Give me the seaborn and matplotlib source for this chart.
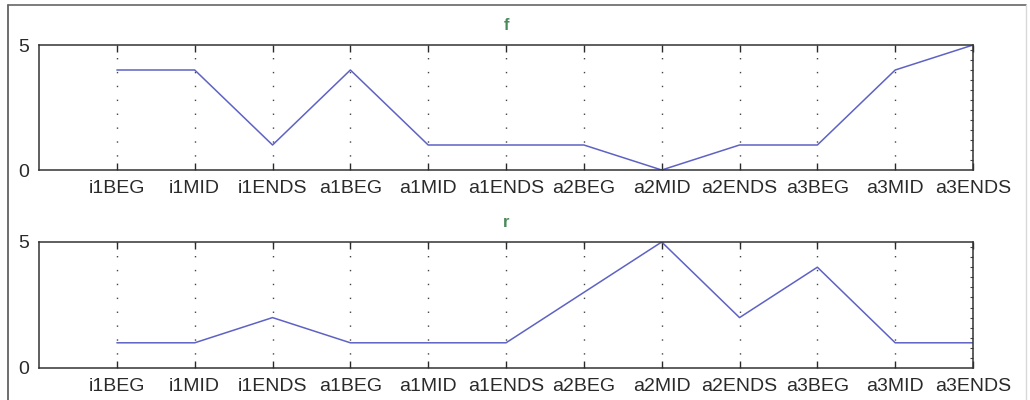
import matplotlib
matplotlib.use("Agg")
import matplotlib.pyplot as plt
from matplotlib.lines import Line2D
from matplotlib.ticker import MultipleLocator
import seaborn as sns
import pandas as pd

phases = ["i1BEG", "i1MID", "i1ENDS", "a1BEG", "a1MID", "a1ENDS",
          "a2BEG", "a2MID", "a2ENDS", "a3BEG", "a3MID", "a3ENDS"]
f_values = [4, 4, 1, 4, 1, 1, 1, 0, 1, 1, 4, 5]
r_values = [1, 1, 2, 1, 1, 1, 3, 5, 2, 4, 1, 1]

sns.set_style("white")
plt.rcParams["font.family"] = ["Liberation Sans", "DejaVu Sans"]

line_color = "#5e62c4"
title_color = "#4a8a5a"

fig = plt.figure(figsize=(10.3, 4.0), dpi=100)
ax_f = fig.add_axes([0.0379, 0.575, 0.9068, 0.3125])
ax_r = fig.add_axes([0.0379, 0.08, 0.9068, 0.315])

for ax, name, vals in [(ax_f, "f", f_values), (ax_r, "r", r_values)]:
    df = pd.DataFrame({"phase": phases, "value": vals})
    sns.lineplot(data=df, x="phase", y="value", ax=ax, color=line_color,
                 linewidth=1.1, sort=False)
    ax.set_xlim(-1, len(phases) - 1)
    ax.set_ylim(0, 5)
    ax.set_xticks(range(len(phases)))
    ax.set_xticklabels(phases)
    ax.set_yticks([0, 5])
    ax.yaxis.set_minor_locator(MultipleLocator(0.4))
    ax.set_xlabel("")
    ax.set_ylabel("")
    ax.set_title(name, color=title_color, fontsize=12, fontweight="bold", pad=11)
    ax.grid(axis="x", linestyle=(0, (1, 9)), color="#444444", linewidth=1.0)
    ax.tick_params(axis="x", which="major", direction="in", length=5, width=1,
                   top=True, bottom=True, labelsize=14, pad=7, colors="#2a2a2a")
    ax.tick_params(axis="y", which="major", direction="in", length=0,
                   labelsize=14, pad=7, colors="#2a2a2a")
    ax.tick_params(axis="y", which="minor", direction="in", length=2.5,
                   width=0.8, left=False, right=True, color="#444444")
    for sp in ax.spines.values():
        sp.set_visible(True)
        sp.set_color("#333333")
        sp.set_linewidth(1.1)

# outer frame around the figure
fig.add_artist(Line2D([8 / 1030, 8 / 1030], [0, 1 - 5 / 400],
                      transform=fig.transFigure, color="#555555", linewidth=1.2))
fig.add_artist(Line2D([8 / 1030, 1026 / 1030], [1 - 5 / 400, 1 - 5 / 400],
                      transform=fig.transFigure, color="#666666", linewidth=1.2))
fig.add_artist(Line2D([1026 / 1030, 1026 / 1030], [0, 1 - 5 / 400],
                      transform=fig.transFigure, color="#d8d8d8", linewidth=1.0))

fig.savefig("out.png", dpi=100)
